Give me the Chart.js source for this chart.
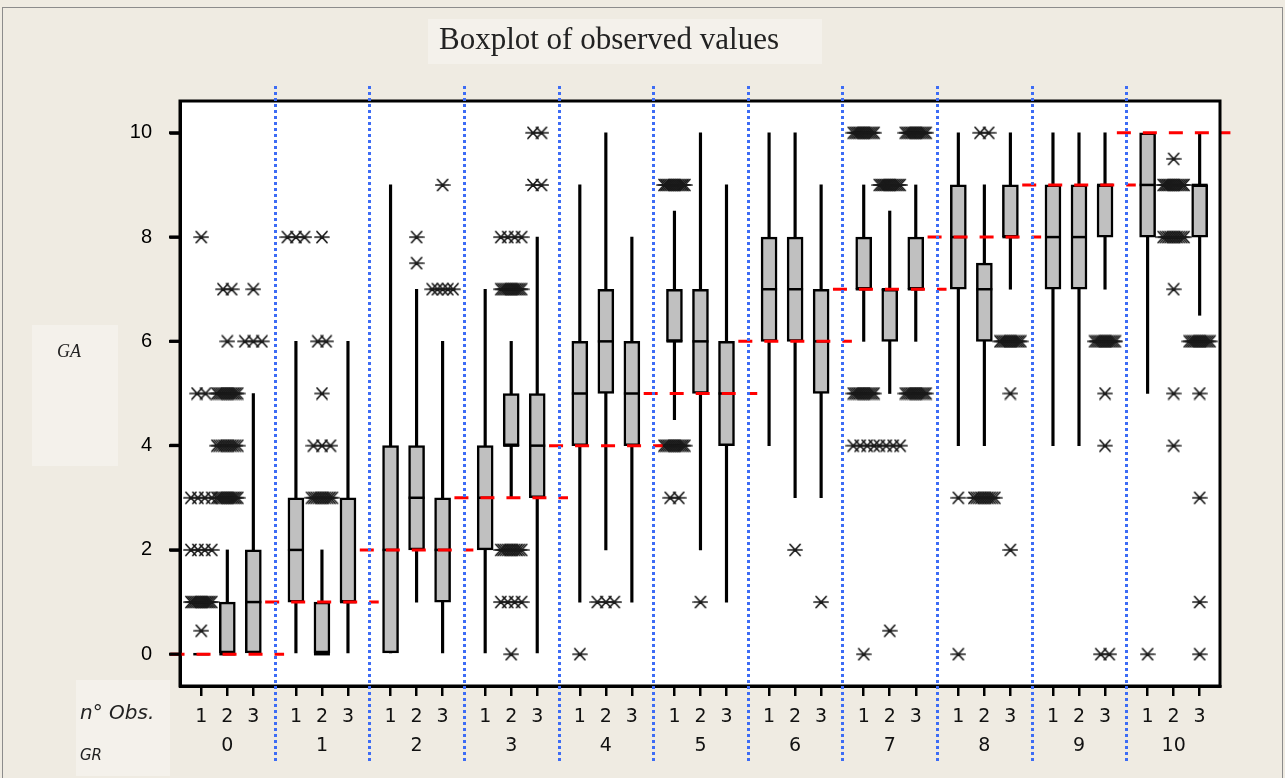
<!DOCTYPE html>
<html>
<head>
<meta charset="utf-8">
<script src="https://cdn.jsdelivr.net/npm/chart.js@4.4.0/dist/chart.umd.min.js"></script>
<style>
  body { margin: 0; background: #fff; }
  #wrap { position: relative; width: 1285px; height: 778px; background: #efebe2; overflow: hidden; }
  #frame { position: absolute; left: 2px; top: 7px; width: 1281px; height: 800px; border: 1px solid #8c8c8c; box-sizing: border-box; }
  .pane { position: absolute; background: #f4f1eb; }
  .lbl { position: absolute; color: #222; white-space: nowrap; }
  #title { left: 399px; top: 21px; width: 420px; text-align: center; font: 31px "Liberation Serif", serif; }
  #ga { left: 57px; top: 341px; font: italic 18px "Liberation Serif", serif; }
  #nobs { left: 80px; top: 700px; font: italic 20px "DejaVu Sans", sans-serif; }
  #gr { left: 80px; top: 746px; font: italic 15px "DejaVu Sans", sans-serif; }
  canvas { position: absolute; left: 0; top: 0; }
</style>
</head>
<body>
<div id="wrap">
  <div id="frame"></div>
  <div class="pane" style="left:428px;top:19px;width:394px;height:45px"></div>
  <div class="pane" style="left:32px;top:325px;width:86px;height:141px"></div>
  <div class="pane" style="left:76px;top:680px;width:94px;height:96px"></div>
  <canvas id="chart" width="1285" height="778"></canvas>
  <div class="lbl" id="title">Boxplot of observed values</div>
  <div class="lbl" id="ga">GA</div>
  <div class="lbl" id="nobs">n° Obs.</div>
  <div class="lbl" id="gr">GR</div>
</div>
<script>
// groups (GR) and observation numbers inside each group
const groups = [0, 1, 2, 3, 4, 5, 6, 7, 8, 9, 10];
const obsNo = [1, 2, 3];
const trueValue = [0, 1, 2, 3, 4, 5, 6, 7, 8, 9, 10];
const yTicks = [0, 2, 4, 6, 8, 10];

// box stats, one entry per box (GR 0 obs 1, GR 0 obs 2, ... GR 10 obs 3)
const lowWhisker  = [0,0,0,  0,0,0,  0,1,0,  0,3,0,  1,2,1,  4.5,2,1,  4,3,3,  6,5,6,  4,4,7,  4,4,7,  5,9,6.5];
const q1          = [0,0,0,  1,0,1,  0,2,1,  2,4,3,  4,5,4,  6,5,4,    6,6,5,  7,6,7,  7,6,8,  7,7,8,  8,9,8];
const median      = [0,0,1,  2,0,1,  2,3,2,  3,4,4,  5,6,5,  6,6,5,    7,7,6,  7,7,7,  8,7,8,  8,8,9,  9,9,9];
const q3          = [0,1,2,  3,1,3,  4,4,3,  4,5,5,  6,7,6,  7,7,6,    8,8,7,  8,7,8,  9,7.5,9, 9,9,9, 10,9,9];
const highWhisker = [0,2,5,  6,2,6,  9,7,6,  7,6,8,  9,10,8, 8.5,10,9, 10,10,9, 9,8.5,9, 10,9,10, 10,10,10, 10,9,10];

// outliers per box as [value, count]
const outliers = [
  [[8,1],[5,2],[3,4],[2,4],[1,12],[0.45,1]], [[7,2],[6,1],[5,12],[4,10],[3,12]], [[7,1],[6,3]],
  [[8,3]], [[8,1],[6,2],[5,1],[4,3],[3,10]], [],
  [], [[8,1],[7.5,1]], [[9,1],[7,5]],
  [], [[8,4],[7,12],[2,10],[1,4],[0,1]], [[10,2],[9,2]],
  [[0,1]], [[1,3]], [],
  [[9,12],[4,12],[3,2]], [[1,1]], [],
  [], [[2,1]], [[1,1]],
  [[10,12],[5,12],[4,4],[0,1]], [[9,12],[4,4],[0.45,1]], [[10,12],[5,12]],
  [[3,1],[0,1]], [[10,2],[3,10]], [[6,12],[5,1],[2,1]],
  [], [], [[6,12],[5,1],[4,1],[0,2]],
  [[0,1]], [[9.5,1],[9,12],[8,10],[7,1],[5,1],[4,1]], [[6,12],[5,1],[3,1],[1,1],[0,1]]
];

// x position of every box: group centre, obs 1..3 side by side
const obsStep = 0.275;
const xPos = [];
groups.forEach(g => obsNo.forEach(o => xPos.push(g + (o - 2) * obsStep)));

// repeated outliers are put next to each other
const outlierPts = [];
outliers.forEach((list, i) => {
  list.forEach(([v, n]) => {
    const span = n > 1 ? Math.min(0.22, (n - 1) * 0.09) : 0;
    for (let k = 0; k < n; k++) {
      outlierPts.push({ x: xPos[i] - span / 2 + (n > 1 ? k * span / (n - 1) : 0), y: v });
    }
  });
});

// asterisk symbol
const star = document.createElement('canvas');
star.width = 16; star.height = 14;
const sc = star.getContext('2d');
sc.strokeStyle = '#1a1a1a';
sc.lineWidth = 1.7;
sc.lineCap = 'round';
sc.beginPath();
sc.moveTo(1, 7); sc.lineTo(15, 7);
sc.moveTo(3, 1.5); sc.lineTo(13, 12.5);
sc.moveTo(13, 1.5); sc.lineTo(3, 12.5);
sc.stroke();

const datasets = [
  {
    type: 'bar', label: 'whisker', grouped: false, order: 4,
    data: xPos.map((x, i) => ({ x: x, y: [lowWhisker[i], highWhisker[i]] })),
    barThickness: 2.5, backgroundColor: '#000'
  },
  {
    type: 'bar', label: 'box', grouped: false, order: 3,
    data: xPos.map((x, i) => ({ x: x, y: [q1[i], q3[i]] })),
    barThickness: 16, backgroundColor: '#c0c0c0', borderColor: '#000',
    borderWidth: 2.5, borderSkipped: false
  },
  {
    type: 'scatter', label: 'median', order: 2,
    data: xPos.map((x, i) => ({ x: x, y: median[i] })),
    pointStyle: 'line', pointRadius: 8, borderColor: '#000', pointBorderColor: '#000',
    borderWidth: 2.5, pointBorderWidth: 2.5
  },
  {
    type: 'scatter', label: 'outliers', order: 1,
    data: outlierPts, pointStyle: star, pointRadius: 7
  }
];

groups.forEach((g, i) => {
  datasets.push({
    type: 'scatter', label: 'GR ' + g, order: 0, showLine: true, clip: false,
    data: [{ x: g - 0.6, y: trueValue[i] }, { x: g + 0.6, y: trueValue[i] }],
    borderColor: '#ff0000', borderWidth: 3, borderDash: [14, 12], pointRadius: 0
  });
});

// frame round the plot, y tick marks, blue dotted separators between groups
const framePlugin = {
  id: 'framePlugin',
  beforeDraw(chart) {
    const a = chart.chartArea, ctx = chart.ctx;
    ctx.save();
    ctx.fillStyle = '#fff';
    ctx.fillRect(a.left, a.top, a.right - a.left, a.bottom - a.top);
    ctx.restore();
  },
  afterDraw(chart) {
    const a = chart.chartArea, ctx = chart.ctx, xs = chart.scales.x, ys = chart.scales.y;
    ctx.save();
    ctx.setLineDash([]);
    ctx.strokeStyle = '#000';
    ctx.lineWidth = 3;
    ctx.strokeRect(a.left, a.top, a.right - a.left, a.bottom - a.top);
    ctx.fillStyle = '#000';
    yTicks.forEach(v => {
      const py = ys.getPixelForValue(v);
      ctx.fillRect(a.left - 11, py - 1.5, 12, 3);
    });
    ctx.strokeStyle = '#3d6cf5';
    ctx.lineWidth = 3;
    ctx.setLineDash([3, 3]);
    groups.slice(0, -1).forEach(g => {
      const px = Math.round(xs.getPixelForValue(g + 0.5)) + 0.5;
      ctx.beginPath();
      ctx.moveTo(px, 86);
      ctx.lineTo(px, 762);
      ctx.stroke();
    });
    ctx.restore();
  }
};

new Chart(document.getElementById('chart'), {
  type: 'bar',
  data: { datasets: datasets },
  plugins: [framePlugin],
  options: {
    responsive: false,
    animation: false,
    layout: { padding: { left: 120, right: 65, top: 101, bottom: 10 } },
    plugins: { legend: { display: false }, tooltip: { enabled: false } },
    scales: {
      x: {
        type: 'linear', min: -0.5, max: 10.49, offset: false,
        afterBuildTicks: s => { s.ticks = xPos.map(v => ({ value: v })); },
        afterFit: s => { s.height = 82; },
        ticks: {
          autoSkip: false, maxRotation: 0, padding: 6, color: '#111',
          font: { family: 'DejaVu Sans', size: 19, lineHeight: 1.55 },
          callback: (v, i) => i % 3 === 1 ? [String(obsNo[1]), String(groups[(i - 1) / 3])] : String(obsNo[i % 3])
        },
        grid: { offset: false, drawOnChartArea: false, tickLength: 10, color: '#000', lineWidth: 2.5 },
        border: { color: '#000', width: 3 }
      },
      y: {
        min: -0.61, max: 10.61,
        afterBuildTicks: s => { s.ticks = yTicks.map(v => ({ value: v })); },
        afterFit: s => { s.width = 60; },
        ticks: { padding: 18, color: '#000', font: { family: 'Liberation Sans', size: 20 } },
        grid: { offset: false, drawOnChartArea: false, drawTicks: true, tickLength: 10, tickColor: '#000', tickWidth: 3, color: '#000', lineWidth: 2.5 },
        border: { color: '#000', width: 3 }
      }
    }
  }
});
</script>
</body>
</html>
